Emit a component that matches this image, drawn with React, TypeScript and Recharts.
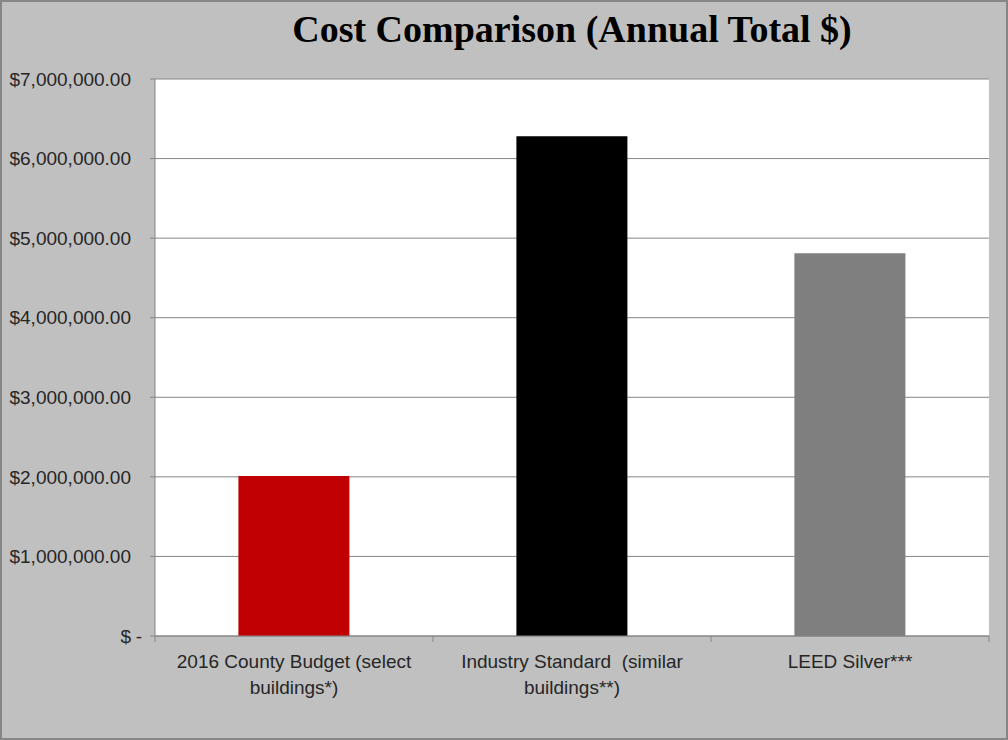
import { BarChart, Bar, XAxis, YAxis, CartesianGrid, Cell } from "recharts";

const categoryLines = [
  ["2016 County Budget (select", "buildings*)"],
  ["Industry Standard  (similar", "buildings**)"],
  ["LEED Silver***"],
];
const categories = categoryLines.map((l) => l.join(" "));
const annualTotals = [2010000, 6280000, 4810000];
const barColors = ["#c00000", "#000000", "#7f7f7f"];
const yTicks = [0, 1000000, 2000000, 3000000, 4000000, 5000000, 6000000, 7000000];

const data = categories.map((name, i) => ({ name, total: annualTotals[i] }));

const W = 1008;
const H = 740;
const M = { top: 79, right: 19, left: 0, bottom: 0 };
const Y_W = 155;
const X_H = 104;
const BAND = (W - Y_W - M.right) / categories.length;

const FONT = "'Liberation Sans', Arial, sans-serif";
const FS = 19;
const TXT = "#262626";
const AXIS = "#868686";

const fmt = (v: number) =>
  "$" + v.toLocaleString("en-US", { minimumFractionDigits: 2, maximumFractionDigits: 2 });

function YTick({ x, y, payload }: any) {
  if (payload.value === 0) {
    // accounting style zero: "$" and "-" pushed apart
    return (
      <g fontFamily={FONT} fontSize={FS} fill={TXT}>
        <text x={x} y={y} dy="0.35em" textAnchor="end">$</text>
        <text x={x + 11} y={y} dy="0.35em" textAnchor="end">-</text>
      </g>
    );
  }
  return (
    <text x={x} y={y} dy="0.35em" textAnchor="end" fontFamily={FONT} fontSize={FS} fill={TXT}>
      {fmt(payload.value)}
    </text>
  );
}

function XTick({ x, index }: any) {
  const lines = categoryLines[index] || [];
  const axisY = H - X_H;
  return (
    <g>
      <line x1={x - BAND / 2} x2={x - BAND / 2} y1={axisY} y2={axisY + 6} stroke={AXIS} />
      {index === categories.length - 1 && (
        <line x1={x + BAND / 2} x2={x + BAND / 2} y1={axisY} y2={axisY + 6} stroke={AXIS} />
      )}
      {lines.map((ln, i) => (
        <text
          key={i}
          x={x}
          y={axisY + 32 + i * 26}
          textAnchor="middle"
          fontFamily={FONT}
          fontSize={FS}
          fill={TXT}
          style={{ whiteSpace: "pre" }}
        >
          {ln}
        </text>
      ))}
    </g>
  );
}

export default function App() {
  return (
    <div style={{ position: "absolute", left: 0, top: 0, width: W, height: H, background: "#c0c0c0" }}>
      <div
        style={{
          position: "absolute", left: Y_W, top: 7, width: W - Y_W - M.right, textAlign: "center",
          fontFamily: "'Liberation Serif', 'Times New Roman', serif", fontWeight: "bold",
          fontSize: 38, lineHeight: "44px", color: "#000",
        }}
      >
        Cost Comparison (Annual Total $)
      </div>
      <div style={{ position: "absolute", left: 0, top: 0 }}>
        <BarChart width={W} height={H} data={data} margin={M} barCategoryGap="30%">
          <CartesianGrid vertical={false} stroke={AXIS} fill="#ffffff" />
          <XAxis
            dataKey="name"
            height={X_H}
            interval={0}
            tickLine={false}
            axisLine={{ stroke: AXIS }}
            tick={<XTick />}
          />
          <YAxis
            width={Y_W}
            domain={[0, 7000000]}
            ticks={yTicks}
            tickSize={5}
            tickMargin={19}
            tickLine={{ stroke: AXIS }}
            axisLine={{ stroke: AXIS }}
            tick={<YTick />}
          />
          <Bar dataKey="total" isAnimationActive={false}>
            {data.map((d, i) => (
              <Cell key={d.name} fill={barColors[i]} />
            ))}
          </Bar>
        </BarChart>
      </div>
      <div
        style={{
          position: "absolute", left: 0, top: 0, width: W, height: H, boxSizing: "border-box",
          border: "2px solid #868686", pointerEvents: "none",
        }}
      />
    </div>
  );
}
